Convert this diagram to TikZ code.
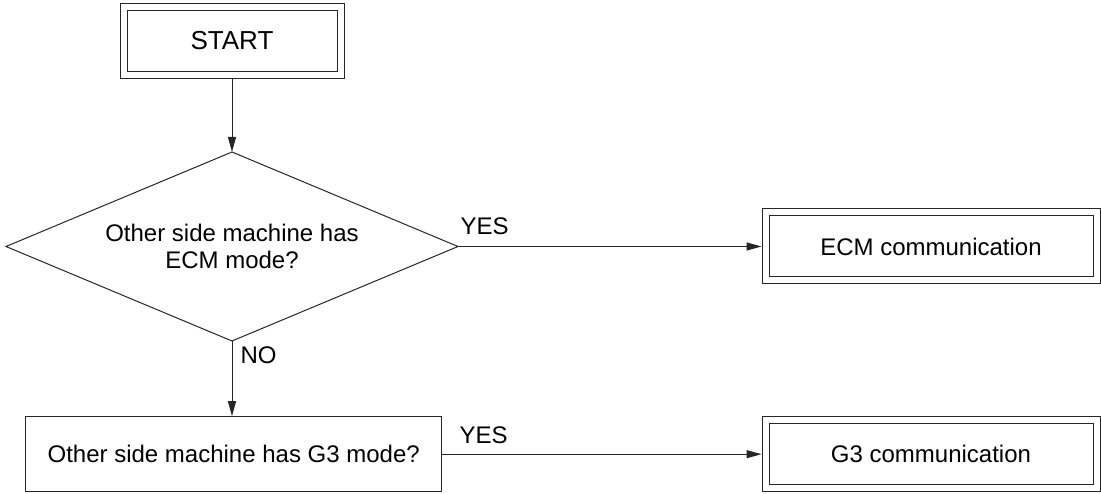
\documentclass[tikz,border=0pt]{standalone}
\usepackage{fontspec}
\setmainfont{Liberation Sans}
\usetikzlibrary{shapes.geometric,arrows.meta}
\begin{document}
\begin{tikzpicture}[x=1pt,y=-1pt,
  every node/.style={font=\fontsize{24}{27.5}\selectfont, text=black},
  flowline/.style={draw=black!85, line width=1pt},
  arrowline/.style={flowline, -{Triangle[length=15pt,width=8pt]}},
  termbox/.style={draw=black!85, line width=1pt, double, double distance=6pt,
    minimum width=#1, minimum height=68pt, inner sep=0pt, outer sep=4pt},
  procbox/.style={draw=black!85, line width=1pt, minimum width=416pt,
    minimum height=75pt, inner sep=0pt},
  decision/.style={diamond, aspect=2.39, draw=black!85, line width=1pt,
    minimum width=452pt, minimum height=189pt, inner sep=0pt, outer sep=0pt,
    align=center},
  branchlabel/.style={inner sep=0pt, anchor=base west}
]
\useasboundingbox (0,0) rectangle (1101,494);

% nodes
\node[termbox=217pt, font=\fontsize{26}{30}\selectfont] (start) at (232,41) {START};
\node[decision] (ecmq) at (232,246.5) {Other side machine has\\ECM mode?};
\node[termbox=331pt] (ecm) at (931,246.5) {ECM communication};
\node[procbox] (g3q) at (233.7,454.2) {Other side machine has G3 mode?};
\node[termbox=331pt] (g3) at (931,454.2) {G3 communication};

% connectors
\draw[arrowline] (start.south) -- (ecmq.north);
\draw[arrowline] (ecmq.east) --
  node[branchlabel, pos=0, xshift=2pt, yshift=11.7pt] {YES} (ecm.west);
\draw[arrowline] (ecmq.south) --
  node[branchlabel, pos=0, xshift=8pt, yshift=-22pt] {NO} (ecmq.south |- g3q.north);
\draw[arrowline] (g3q.east) --
  node[branchlabel, pos=0, xshift=17pt, yshift=10.3pt] {YES} (g3.west);
\end{tikzpicture}
\end{document}
